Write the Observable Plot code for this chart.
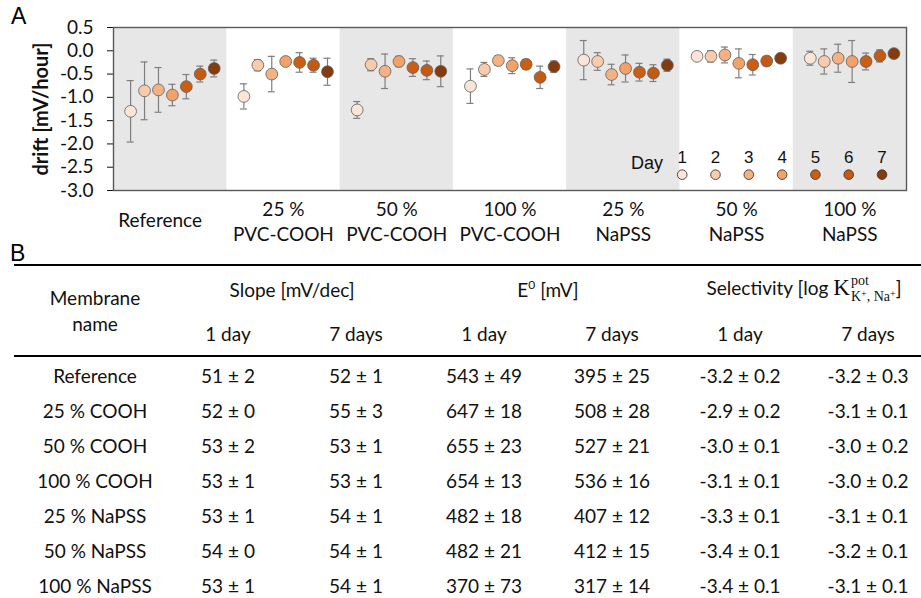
<!DOCTYPE html>
<html>
<head>
<meta charset="utf-8">
<script src="https://cdn.jsdelivr.net/npm/d3@7"></script>
<script src="https://cdn.jsdelivr.net/npm/@observablehq/plot@0.6"></script>
<style>
  html, body { margin:0; padding:0; background:#fff; overflow:hidden; }
  #wrap { position:relative; width:921px; height:598px; overflow:hidden; background:#fff; }
  .lab { position:absolute; font-family:"Liberation Sans", Arial, sans-serif; font-size:23px; color:#000; line-height:1; }
  #chart { position:absolute; left:0; top:0; }
  #chart svg { overflow:visible; }
  #chart g[aria-label="y-axis label"] text { font-weight:700; font-size:20px; }
  #tbl { position:absolute; left:14px; top:264px; width:907px; border-top:2.5px solid #000; }
  table { border-collapse:collapse; table-layout:fixed; width:918px; font-family:Lato, sans-serif; font-size:19px; color:#111; }
  td, th { padding:0; text-align:center; font-weight:400; white-space:nowrap; }
  thead tr.a th { height:46px; }
  thead tr.b th { height:43px; border-bottom:2.5px solid #000; }
  th.mem { line-height:26px; padding-left:12px; border-bottom:2.5px solid #000; }
  tbody td { height:35px; }
  tbody td:first-child { padding-left:12px; }
  tbody tr:first-child td { padding-top:1px; }
  .kk { font-family:"Liberation Serif", "DejaVu Serif", serif; font-size:23px; }
  .ss { display:inline-block; vertical-align:-6px; line-height:16px; text-align:left; font-family:"Liberation Serif","DejaVu Serif",serif; margin-left:1px; }
  .ss .sp { display:block; font-size:14px; }
  .ss .sb { display:block; font-size:14px; }
  .ss sup { font-size:10px; vertical-align:4px; line-height:0; }
  .e0 { font-size:12px; vertical-align:8px; }
</style>
</head>
<body>
<div id="wrap">
  <div class="lab" style="left:11px;top:5px">A</div>
  <div id="chart"></div>
  <div class="lab" style="left:10px;top:242px">B</div>
  <div id="tbl"></div>
</div>
<script>
// ---------- Panel A data ----------
const groups = ["Reference", "25 %\nPVC-COOH", "50 %\nPVC-COOH", "100 %\nPVC-COOH", "25 %\nNaPSS", "50 %\nNaPSS", "100 %\nNaPSS"];
const days = [1, 2, 3, 4, 5, 6, 7];
const dayColors = ["#FBE5D6", "#F8CBAD", "#F4B183", "#F2A269", "#CC5E14", "#C55A11", "#843C0C"];

const driftReference = [-1.30, -0.86, -0.84, -0.95, -0.77, -0.50, -0.38];
const errReference   = [0.66, 0.62, 0.48, 0.23, 0.26, 0.17, 0.18];
const drift25COOH    = [-0.98, -0.31, -0.50, -0.23, -0.25, -0.31, -0.45];
const err25COOH      = [0.27, 0.12, 0.38, 0.04, 0.21, 0.15, 0.29];
const drift50COOH    = [-1.27, -0.30, -0.44, -0.23, -0.36, -0.42, -0.44];
const err50COOH      = [0.18, 0.13, 0.37, 0.11, 0.19, 0.20, 0.33];
const drift100COOH   = [-0.76, -0.40, -0.21, -0.32, -0.29, -0.57, -0.34];
const err100COOH     = [0.37, 0.15, 0.10, 0.17, 0.10, 0.24, 0.12];
const drift25NaPSS   = [-0.20, -0.23, -0.51, -0.38, -0.46, -0.48, -0.31];
const err25NaPSS     = [0.42, 0.19, 0.22, 0.29, 0.19, 0.18, 0.13];
const drift50NaPSS   = [-0.12, -0.12, -0.09, -0.27, -0.30, -0.22, -0.16];
const err50NaPSS     = [0.03, 0.12, 0.17, 0.31, 0.22, 0.10, 0.03];
const drift100NaPSS  = [-0.16, -0.23, -0.16, -0.23, -0.23, -0.11, -0.06];
const err100NaPSS    = [0.15, 0.27, 0.30, 0.45, 0.18, 0.13, 0.03];

const yTicks = [-3.0, -2.5, -2.0, -1.5, -1.0, -0.5, 0.0, 0.5];

// ---------- Panel B data ----------
const membranes = ["Reference", "25 % COOH", "50 % COOH", "100 % COOH", "25 % NaPSS", "50 % NaPSS", "100 % NaPSS"];
const slope1 = ["51 ± 2", "52 ± 0", "53 ± 2", "53 ± 1", "53 ± 1", "54 ± 0", "53 ± 1"];
const slope7 = ["52 ± 1", "55 ± 3", "53 ± 1", "53 ± 1", "54 ± 1", "54 ± 1", "54 ± 1"];
const e01    = ["543 ± 49", "647 ± 18", "655 ± 23", "654 ± 13", "482 ± 18", "482 ± 21", "370 ± 73"];
const e07    = ["395 ± 25", "508 ± 28", "527 ± 21", "536 ± 16", "407 ± 12", "412 ± 15", "317 ± 14"];
const sel1   = ["-3.2 ± 0.2", "-2.9 ± 0.2", "-3.0 ± 0.1", "-3.1 ± 0.1", "-3.3 ± 0.1", "-3.4 ± 0.1", "-3.4 ± 0.1"];
const sel7   = ["-3.2 ± 0.3", "-3.1 ± 0.1", "-3.0 ± 0.2", "-3.0 ± 0.2", "-3.1 ± 0.1", "-3.2 ± 0.1", "-3.1 ± 0.1"];

// ---------- build chart ----------
const means = [driftReference, drift25COOH, drift50COOH, drift100COOH, drift25NaPSS, drift50NaPSS, drift100NaPSS];
const errs  = [errReference, err25COOH, err50COOH, err100COOH, err25NaPSS, err50NaPSS, err100NaPSS];
const pts = groups.flatMap((g, gi) => days.map((d, di) => ({
  gi, day: d, x: gi + 0.52 + (d - 4) * 0.123, y: means[gi][di], e: errs[gi][di]
})));
const caps = pts.flatMap(p => [{x: p.x, cy: p.y - p.e}, {x: p.x, cy: p.y + p.e}]);
const shaded = groups.map((g, i) => i).filter(i => i % 2 === 0);
const legX = d => 5.02 + (d - 1) * 0.294;
const groupItems = groups.map((g, i) => ({g, i}));

const chart = Plot.plot({
  width: 921, height: 245,
  marginTop: 27, marginBottom: 55, marginLeft: 113, marginRight: 15,
  x: {domain: [0, 7], axis: null},
  y: {domain: [-3, 0.5], ticks: yTicks, tickFormat: d => d.toFixed(1), tickSize: 6, tickPadding: 14,
      label: "drift [mV/hour]", labelAnchor: "center", labelArrow: "none", labelOffset: 80},
  color: {domain: days, range: dayColors},
  style: {fontFamily: "Lato, sans-serif", fontSize: "19px", color: "#111", background: "transparent", overflow: "visible"},
  marks: [
    Plot.rect(shaded, {x1: i => i, x2: i => i + 1, fill: "#E7E7E7"}),
    Plot.ruleX(pts, {x: "x", y1: d => d.y - d.e, y2: d => d.y + d.e, stroke: "#7F7F7F", strokeWidth: 1.2}),
    Plot.ruleY(caps, {y: "cy", x1: d => d.x - 0.031, x2: d => d.x + 0.031, stroke: "#7F7F7F", strokeWidth: 1.2}),
    Plot.dot(pts, {x: "x", y: "y", r: 5.9, fill: d => d.day, stroke: "#5E5E5E", strokeWidth: 0.8}),
    Plot.text(groupItems.slice(0, 1), {x: d => d.i + 0.5, frameAnchor: "bottom", dy: 30, dx: -10, lineAnchor: "middle", text: d => d.g, fill: "#111"}),
    Plot.text(groupItems.slice(1), {x: d => d.i + 0.5, frameAnchor: "bottom", dy: 30, lineAnchor: "middle", lineHeight: 1.3, text: d => d.g, fill: "#111"}),
    Plot.text(["Day"], {x: () => 4.71, y: () => -2.42, text: d => d, fontFamily: "Liberation Sans, Arial, sans-serif", fontSize: 18, fill: "#111"}),
    Plot.text(days, {x: legX, y: () => -2.29, text: d => String(d), fontFamily: "Liberation Sans, Arial, sans-serif", fontSize: 17, fill: "#111"}),
    Plot.dot(days, {x: legX, y: () => -2.66, r: 4.8, fill: d => d, stroke: "#3A3A3A", strokeWidth: 0.9}),
    Plot.frame({stroke: "#595959", strokeWidth: 1.4})
  ]
});
document.getElementById("chart").appendChild(chart);

// ---------- build table ----------
const cols = [membranes, slope1, slope7, e01, e07, sel1, sel7];
let html = '<table><colgroup><col style="width:150px">' + '<col style="width:128px">'.repeat(6) + '</colgroup>';
html += '<thead><tr class="a"><th class="mem" rowspan="2">Membrane<br>name</th>'
  + '<th colspan="2">Slope [mV/dec]</th>'
  + '<th colspan="2">E<span class="e0">0</span> [mV]</th>'
  + '<th colspan="2">Selectivity [log <span class="kk">K</span><span class="ss"><span class="sp">pot</span><span class="sb">K<sup>+</sup>, Na<sup>+</sup></span></span>]</th></tr>'
  + '<tr class="b"><th>1 day</th><th>7 days</th><th>1 day</th><th>7 days</th><th>1 day</th><th>7 days</th></tr></thead><tbody>';
membranes.forEach((m, r) => {
  html += '<tr>' + cols.map(c => '<td>' + c[r] + '</td>').join('') + '</tr>';
});
html += '</tbody></table>';
document.getElementById("tbl").innerHTML = html;
</script>
</body>
</html>
